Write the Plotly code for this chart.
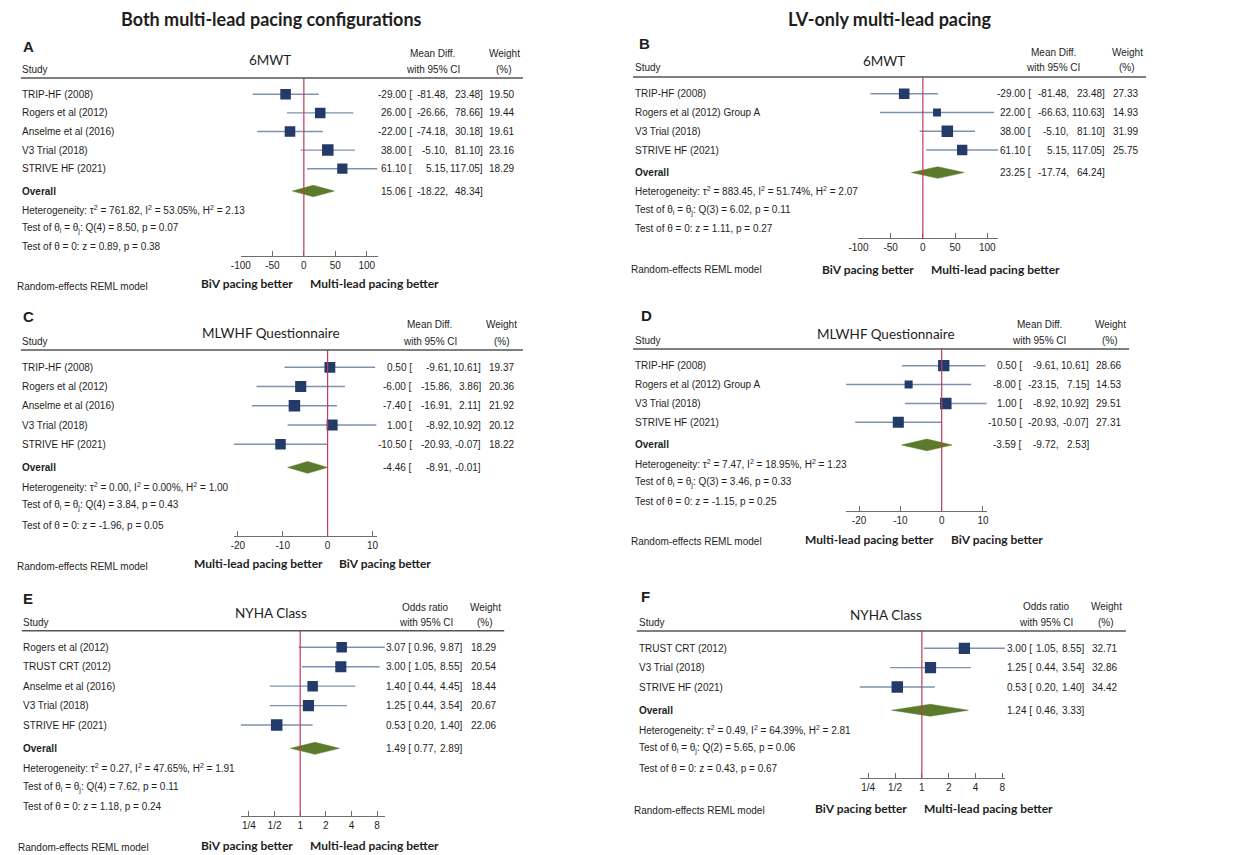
import math
import plotly.graph_objects as go

W, H = 1250, 855

# ---------------- DATA ----------------
a_studies = ["TRIP-HF (2008)", "Rogers et al (2012)", "Anselme et al (2016)", "V3 Trial (2018)", "STRIVE HF (2021)"]
a_est = [-29.00, 26.00, -22.00, 38.00, 61.10]
a_lo = [-81.48, -26.66, -74.18, -5.10, 5.15]
a_hi = [23.48, 78.66, 30.18, 81.10, 117.05]
a_wt = [19.50, 19.44, 19.61, 23.16, 18.29]
a_overall = [15.06, -18.22, 48.34]
a_het = [761.82, 53.05, 2.13]
a_qtest = [4, 8.50, 0.07]
a_ztest = [0.89, 0.38]

b_studies = ["TRIP-HF (2008)", "Rogers et al (2012) Group A", "V3 Trial (2018)", "STRIVE HF (2021)"]
b_est = [-29.00, 22.00, 38.00, 61.10]
b_lo = [-81.48, -66.63, -5.10, 5.15]
b_hi = [23.48, 110.63, 81.10, 117.05]
b_wt = [27.33, 14.93, 31.99, 25.75]
b_overall = [23.25, -17.74, 64.24]
b_het = [883.45, 51.74, 2.07]
b_qtest = [3, 6.02, 0.11]
b_ztest = [1.11, 0.27]

c_studies = ["TRIP-HF (2008)", "Rogers et al (2012)", "Anselme et al (2016)", "V3 Trial (2018)", "STRIVE HF (2021)"]
c_est = [0.50, -6.00, -7.40, 1.00, -10.50]
c_lo = [-9.61, -15.86, -16.91, -8.92, -20.93]
c_hi = [10.61, 3.86, 2.11, 10.92, -0.07]
c_wt = [19.37, 20.36, 21.92, 20.12, 18.22]
c_overall = [-4.46, -8.91, -0.01]
c_het = [0.00, 0.00, 1.00]
c_qtest = [4, 3.84, 0.43]
c_ztest = [-1.96, 0.05]

d_studies = ["TRIP-HF (2008)", "Rogers et al (2012) Group A", "V3 Trial (2018)", "STRIVE HF (2021)"]
d_est = [0.50, -8.00, 1.00, -10.50]
d_lo = [-9.61, -23.15, -8.92, -20.93]
d_hi = [10.61, 7.15, 10.92, -0.07]
d_wt = [28.66, 14.53, 29.51, 27.31]
d_overall = [-3.59, -9.72, 2.53]
d_het = [7.47, 18.95, 1.23]
d_qtest = [3, 3.46, 0.33]
d_ztest = [-1.15, 0.25]

e_studies = ["Rogers et al (2012)", "TRUST CRT (2012)", "Anselme et al (2016)", "V3 Trial (2018)", "STRIVE HF (2021)"]
e_est = [3.07, 3.00, 1.40, 1.25, 0.53]
e_lo = [0.96, 1.05, 0.44, 0.44, 0.20]
e_hi = [9.87, 8.55, 4.45, 3.54, 1.40]
e_wt = [18.29, 20.54, 18.44, 20.67, 22.06]
e_overall = [1.49, 0.77, 2.89]
e_het = [0.27, 47.65, 1.91]
e_qtest = [4, 7.62, 0.11]
e_ztest = [1.18, 0.24]

f_studies = ["TRUST CRT (2012)", "V3 Trial (2018)", "STRIVE HF (2021)"]
f_est = [3.00, 1.25, 0.53]
f_lo = [1.05, 0.44, 0.20]
f_hi = [8.55, 3.54, 1.40]
f_wt = [32.71, 32.86, 34.42]
f_overall = [1.24, 0.46, 3.33]
f_het = [0.49, 64.39, 2.81]
f_qtest = [2, 5.65, 0.06]
f_ztest = [0.43, 0.67]

lin_ticks_6mwt = [-100, -50, 0, 50, 100]
lin_ticks_mlwhf = [-20, -10, 0, 10]
log_ticks = [0.25, 0.5, 1, 2, 4, 8]
log_ticktext = ["1/4", "1/2", "1", "2", "4", "8"]

col_titles = ["Both multi-lead pacing configurations", "LV-only multi-lead pacing"]

# ---------------- STYLE ----------------
BODY = "Liberation Sans, Arial, sans-serif"
CAL = "Lato, Open Sans, sans-serif"
TXT = "#1e1e1e"
SQ = "#223b69"
CI = "#7f91b0"
DIA = "#5b7a2b"
NULLC = "#c23b5c"
AX = "#6e6e6e"
FS = 10

def P(x):
    return x / W

def Q(y):
    return 1 - y / H

panels = [
    dict(letter="A", title="6MWT", studies=a_studies, est=a_est, lo=a_lo, hi=a_hi, wt=a_wt,
         ov=a_overall, het=a_het, qt=a_qtest, zt=a_ztest, log=False, ticks=lin_ticks_6mwt,
         eff=("Mean Diff.", "with 95% CI"), left="BiV pacing better", right="Multi-lead pacing better",
         null_px=296.7, scale=0.636, header=78, row1=94.3, sp=18.6, axis=255.7,
         name_x=12, cols=(405.5, 442.5, 477.3, 509), rule=(11, 518),
         hx=(427, 499), hy=(54, 69), let=(13, 46), tt=(263, 60), foot=(239, 368, 283), rem=(7, 286)),
    dict(letter="B", title="6MWT", studies=b_studies, est=b_est, lo=b_lo, hi=b_hi, wt=b_wt,
         ov=b_overall, het=b_het, qt=b_qtest, zt=b_ztest, log=False, ticks=lin_ticks_6mwt,
         eff=("Mean Diff.", "with 95% CI"), left="BiV pacing better", right="Multi-lead pacing better",
         null_px=921.7, scale=0.65, header=77, row1=93.7, sp=18.77, axis=238.3,
         name_x=631, cols=(1031, 1069, 1105.7, 1138.7), rule=(629, 1147),
         hx=(1053.5, 1128), hy=(52, 68), let=(635, 44), tt=(882, 61), foot=(866.7, 995.3, 269), rem=(627, 269)),
    dict(letter="C", title="MLWHF Questionnaire", studies=c_studies, est=c_est, lo=c_lo, hi=c_hi, wt=c_wt,
         ov=c_overall, het=c_het, qt=c_qtest, zt=c_ztest, log=False, ticks=lin_ticks_mlwhf,
         eff=("Mean Diff.", "with 95% CI"), left="Multi-lead pacing better", right="BiV pacing better",
         null_px=320.7, scale=4.53, header=350, row1=367.3, sp=19.25, axis=535.7,
         name_x=12, cols=(406, 446.7, 476, 509.3), rule=(11, 518),
         hx=(424, 496.7), hy=(325, 341), let=(13, 316), tt=(264, 333), foot=(250.7, 378.8, 563), rem=(7, 566)),
    dict(letter="D", title="MLWHF Questionnaire", studies=d_studies, est=d_est, lo=d_lo, hi=d_hi, wt=d_wt,
         ov=d_overall, het=d_het, qt=d_qtest, zt=d_ztest, log=False, ticks=lin_ticks_mlwhf,
         eff=("Mean Diff.", "with 95% CI"), left="Multi-lead pacing better", right="BiV pacing better",
         null_px=940.7, scale=4.17, header=349, row1=365.7, sp=18.87, axis=511,
         name_x=631, cols=(1021.7, 1059, 1089, 1121.7), rule=(629, 1130),
         hx=(1039, 1110.7), hy=(324, 340), let=(637, 315), tt=(884, 334), foot=(867.7, 996.3, 539), rem=(627, 541.7)),
    dict(letter="E", title="NYHA Class", studies=e_studies, est=e_est, lo=e_lo, hi=e_hi, wt=e_wt,
         ov=e_overall, het=e_het, qt=e_qtest, zt=e_ztest, log=True, ticks=log_ticks,
         eff=("Odds ratio", "with 95% CI"), left="BiV pacing better", right="Multi-lead pacing better",
         null_px=293, scale=86.0, header=630.7, row1=647.3, sp=19.43, axis=816,
         name_x=13, cols=(405, 430, 456.7, 490.7), rule=(12, 499),
         hx=(420, 480), hy=(607, 622), let=(13, 598), tt=(264, 613), foot=(238.8, 367.8, 845), rem=(8, 847.3)),
    dict(letter="F", title="NYHA Class", studies=f_studies, est=f_est, lo=f_lo, hi=f_hi, wt=f_wt,
         ov=f_overall, het=f_het, qt=f_qtest, zt=f_ztest, log=True, ticks=log_ticks,
         eff=("Odds ratio", "with 95% CI"), left="BiV pacing better", right="Multi-lead pacing better",
         null_px=920.7, scale=90.0, header=631, row1=648.3, sp=19.35, axis=778.3,
         name_x=635, cols=(1032.3, 1058.3, 1084.3, 1118), rule=(633, 1126.7),
         hx=(1046.5, 1107), hy=(606, 622), let=(637, 596), tt=(884, 615), foot=(858.8, 987.8, 808), rem=(630, 810)),
]

fig = go.Figure()
ann = []
shapes = []

def add_text(text, x, y, yref="paper", xanchor="left", size=FS, family=BODY, color=TXT):
    ann.append(dict(text=text, x=x, y=y, xref="paper", yref=yref, xanchor=xanchor,
                    yanchor="middle", showarrow=False, borderpad=0, borderwidth=0,
                    font=dict(size=size, family=family, color=color)))

for k, p in enumerate(panels, start=1):
    xa = "x" if k == 1 else f"x{k}"
    ya = "y" if k == 1 else f"y{k}"
    n = len(p["studies"])
    rows = list(range(1, n + 1))
    ov_row = n + 1.2
    het_rows = [n + 2.2, n + 3.2, n + 4.2]

    lo_ax = min(min(p["lo"]), min(p["ticks"]))
    hi_ax = max(max(p["hi"]), max(p["ticks"]))
    if p["log"]:
        tr = lambda v: math.log10(v)
        null = 1.0
        ttext = log_ticktext
    else:
        tr = lambda v: v
        null = 0.0
        ttext = [str(v) for v in p["ticks"]]
    dl = p["null_px"] + (tr(lo_ax) - tr(null)) * p["scale"]
    dr = p["null_px"] + (tr(hi_ax) - tr(null)) * p["scale"]
    rowpos = lambda px: (px - p["row1"]) / p["sp"] + 1
    xaxis = dict(domain=[P(dl), P(dr)], anchor=ya, range=[tr(lo_ax), tr(hi_ax)],
                 showgrid=False, zeroline=False, showline=True, linecolor=AX, linewidth=1.2,
                 ticks="inside", ticklen=5, tickcolor=AX, tickwidth=1.2,
                 tickvals=p["ticks"], ticktext=ttext, tickfont=dict(size=FS, family=BODY, color=TXT),
                 fixedrange=True)
    if p["log"]:
        xaxis.update(type="log")
    yaxis = dict(domain=[Q(p["axis"]), Q(p["header"])], anchor=xa,
                 range=[rowpos(p["axis"]), rowpos(p["header"])], visible=False, fixedrange=True)
    fig.layout["xaxis" if k == 1 else f"xaxis{k}"] = xaxis
    fig.layout["yaxis" if k == 1 else f"yaxis{k}"] = yaxis

    # CI lines
    cx, cy = [], []
    for r, l, h in zip(rows, p["lo"], p["hi"]):
        cx += [l, h, None]
        cy += [r, r, None]
    fig.add_trace(go.Scatter(x=cx, y=cy, mode="lines", line=dict(color=CI, width=1.4),
                             xaxis=xa, yaxis=ya, hoverinfo="skip", showlegend=False))
    # squares (area proportional to weight)
    wmax = max(p["wt"])
    sizes = [11.5 * math.sqrt(w / wmax) for w in p["wt"]]
    fig.add_trace(go.Scatter(x=p["est"], y=rows, mode="markers",
                             marker=dict(symbol="square", size=sizes, color=SQ, opacity=1,
                                         line=dict(width=0)),
                             xaxis=xa, yaxis=ya, showlegend=False))
    # diamond
    oe, ol, oh = p["ov"]
    hh = 0.31
    fig.add_trace(go.Scatter(x=[ol, oe, oh, oe, ol], y=[ov_row, ov_row - hh, ov_row, ov_row + hh, ov_row],
                             mode="lines", fill="toself", fillcolor=DIA, line=dict(color=DIA, width=0.5),
                             xaxis=xa, yaxis=ya, showlegend=False, hoverinfo="skip"))
    # null line
    shapes.append(dict(type="line", xref=xa, yref=f"{ya} domain", x0=null, x1=null, y0=0, y1=1,
                       line=dict(color=NULLC, width=1.2), layer="above"))
    # header rule
    shapes.append(dict(type="line", xref="paper", yref="paper", x0=P(p["rule"][0]), x1=P(p["rule"][1]),
                       y0=Q(p["header"]), y1=Q(p["header"]), line=dict(color="#555555", width=1.6)))

    c1, c2, c3, c4 = p["cols"]
    for r, s, e, l, h, w in zip(rows, p["studies"], p["est"], p["lo"], p["hi"], p["wt"]):
        add_text(s, P(p["name_x"]), r, yref=ya)
        add_text(f"{e:.2f} [", P(c1), r, yref=ya, xanchor="right")
        add_text(f"{l:.2f},", P(c2), r, yref=ya, xanchor="right")
        add_text(f"{h:.2f}]", P(c3), r, yref=ya, xanchor="right")
        add_text(f"{w:.2f}", P(c4), r, yref=ya, xanchor="right")
    add_text("<b>Overall</b>", P(p["name_x"]), ov_row, yref=ya)
    add_text(f"{oe:.2f} [", P(c1), ov_row, yref=ya, xanchor="right")
    add_text(f"{ol:.2f},", P(c2), ov_row, yref=ya, xanchor="right")
    add_text(f"{oh:.2f}]", P(c3), ov_row, yref=ya, xanchor="right")
    t2, i2, h2 = p["het"]
    df, qv, qp = p["qt"]
    zv, zp = p["zt"]
    add_text(f"Heterogeneity: τ<sup>2</sup> = {t2:.2f}, I<sup>2</sup> = {i2:.2f}%, H<sup>2</sup> = {h2:.2f}",
             P(p["name_x"]), het_rows[0], yref=ya)
    add_text(f"Test of θ<sub>i</sub> = θ<sub>j</sub>: Q({df}) = {qv:.2f}, p = {qp:.2f}",
             P(p["name_x"]), het_rows[1], yref=ya)
    add_text(f"Test of θ = 0: z = {zv:.2f}, p = {zp:.2f}", P(p["name_x"]), het_rows[2], yref=ya)

    add_text("Study", P(p["name_x"]), Q(p["hy"][1]))
    add_text(p["eff"][0], P(p["hx"][0]), Q(p["hy"][0]), xanchor="center")
    add_text(p["eff"][1], P(p["hx"][0]), Q(p["hy"][1]), xanchor="center")
    add_text("Weight", P(p["hx"][1]), Q(p["hy"][0]), xanchor="center")
    add_text("(%)", P(p["hx"][1]), Q(p["hy"][1]), xanchor="center")
    add_text(f"<b>{p['letter']}</b>", P(p["let"][0]), Q(p["let"][1]), size=15, family=BODY)
    add_text(p["title"], P(p["tt"][0]), Q(p["tt"][1]), xanchor="center", size=13.5, family=CAL)
    add_text(f"<b>{p['left']}</b>", P(p["foot"][0]), Q(p["foot"][2]), xanchor="center", size=12, family=CAL)
    add_text(f"<b>{p['right']}</b>", P(p["foot"][1]), Q(p["foot"][2]), xanchor="center", size=12, family=CAL)
    add_text("Random-effects REML model", P(p["rem"][0]), Q(p["rem"][1]), size=FS)

add_text(f"<b>{col_titles[0]}</b>", P(264), Q(19), xanchor="center", size=18, family=CAL)
add_text(f"<b>{col_titles[1]}</b>", P(888), Q(19), xanchor="center", size=18, family=CAL)

fig.update_layout(width=W, height=H, margin=dict(l=0, r=0, t=0, b=0),
                  paper_bgcolor="white", plot_bgcolor="white",
                  annotations=ann, shapes=shapes, showlegend=False,
                  font=dict(family=BODY, color=TXT))
# remove the default 8px page margin so the figure sits at the window's top-left corner
fig.write_html("out.html", config={"displayModeBar": False},
               post_script="document.body.style.margin='0px';document.body.style.overflow='hidden';")
